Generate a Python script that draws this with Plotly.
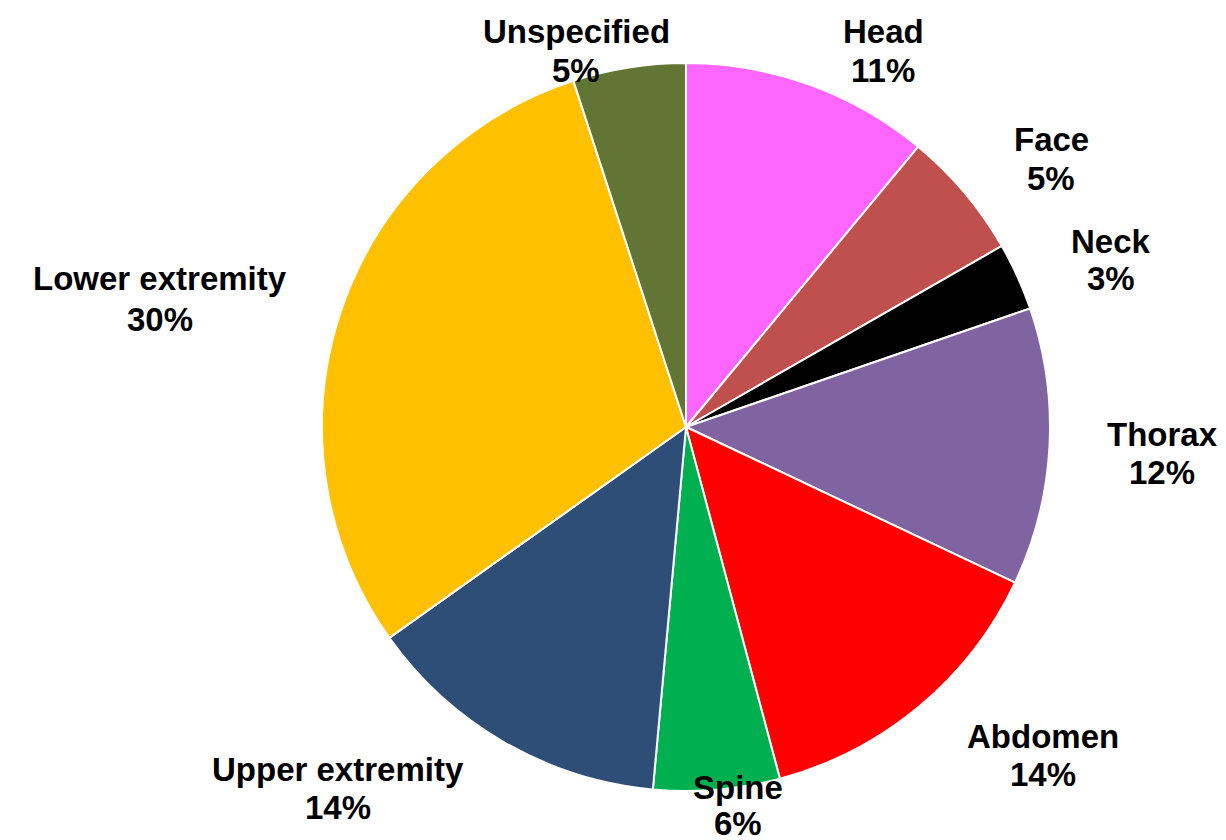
import plotly.graph_objects as go

categories = ["Head", "Face", "Neck", "Thorax", "Abdomen", "Spine",
              "Upper extremity", "Lower extremity", "Unspecified"]
values = [11.0, 5.7, 3.0, 12.3, 13.8, 5.6, 13.7, 29.8, 5.0]
pct_labels = ["11%", "5%", "3%", "12%", "14%", "6%", "14%", "30%", "5%"]
colors = ["#FF66FF", "#C0504D", "#000000", "#8064A2", "#FF0000", "#00B050",
          "#2E4D77", "#FFC000", "#617634"]

# label positions in pixels: (x centre, name line y, percent line y)
label_pos = [(875, 23, 63), (1043, 131, 171), (1103, 233, 271), (1154, 426, 464),
             (1035, 728, 766), (730, 779, 815), (330, 761, 799), (152, 270, 311),
             (568, 23, 63)]

W, H = 1226, 840
cx, cy, r = 678, 419, 364

fig = go.Figure(go.Pie(
    labels=categories, values=values, sort=False, direction="clockwise",
    rotation=0, textinfo="none", hoverinfo="label+percent",
    marker=dict(colors=colors, line=dict(color="white", width=2)),
    domain=dict(x=[(cx - r) / W, (cx + r) / W], y=[(H - cy - r) / H, (H - cy + r) / H]),
    showlegend=False,
))

fnt = dict(family="Liberation Sans, Arial", size=33, color="black")
for name, pct, (px, py1, py2) in zip(categories, pct_labels, label_pos):
    for txt, py in ((name, py1), (pct, py2)):
        fig.add_annotation(
            x=px / W, y=1 - py / H, xref="paper", yref="paper",
            text=f"<b>{txt}</b>", showarrow=False,
            xanchor="center", yanchor="middle", align="center", font=fnt,
        )

fig.update_layout(width=W, height=H, margin=dict(l=0, r=0, t=0, b=0),
                  paper_bgcolor="white", plot_bgcolor="white")
fig.write_html("out.html")
